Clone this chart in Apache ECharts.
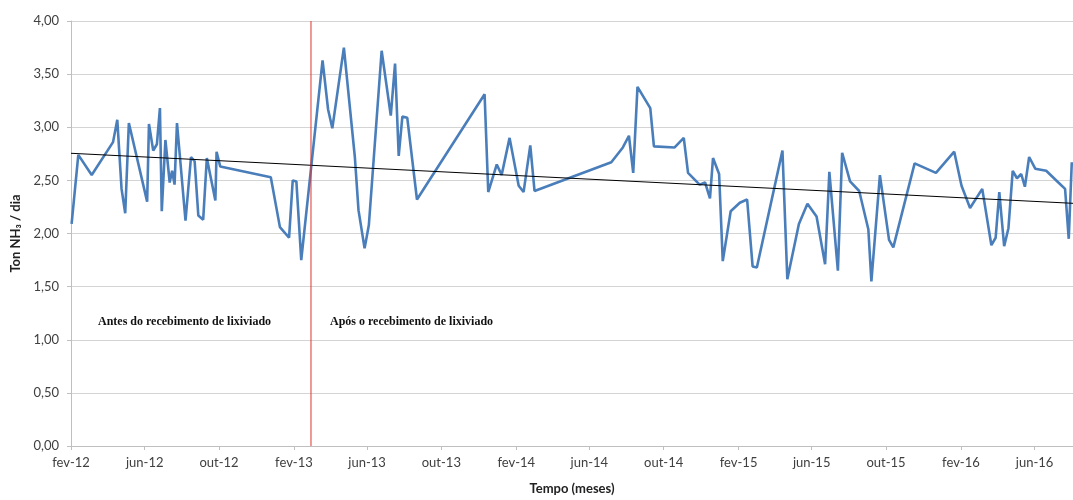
<!DOCTYPE html>
<html>
<head>
<meta charset="utf-8">
<script src="https://cdn.jsdelivr.net/npm/echarts@6/dist/echarts.min.js"></script>
<style>
html,body{margin:0;padding:0;background:#fff;}
#chart{width:1073px;height:500px;}
</style>
</head>
<body>
<div id="chart"></div>
<script>
// ---- data ----
const dates = [
 '2012-02-02','2012-02-13','2012-03-06','2012-04-10','2012-04-17','2012-04-24','2012-04-30','2012-05-06',
 '2012-06-05','2012-06-08','2012-06-15','2012-06-21','2012-06-26','2012-06-29','2012-07-05','2012-07-12',
 '2012-07-16','2012-07-20','2012-07-24','2012-08-07','2012-08-16','2012-08-22','2012-08-28','2012-09-05',
 '2012-09-11','2012-09-25','2012-09-27','2012-10-03','2012-12-25','2013-01-09','2013-01-24','2013-01-30',
 '2013-02-05','2013-02-13','2013-03-20','2013-03-29','2013-04-05','2013-04-24','2013-05-12','2013-05-18',
 '2013-05-28','2013-06-04','2013-06-25','2013-07-10','2013-07-17','2013-07-23','2013-07-29','2013-08-06',
 '2013-08-22','2013-12-11','2013-12-17','2013-12-31','2014-01-08','2014-01-21','2014-02-05','2014-02-13',
 '2014-02-24','2014-03-03','2014-07-07','2014-07-26','2014-08-05','2014-08-12','2014-08-19','2014-09-09',
 '2014-09-15','2014-10-19','2014-11-03','2014-11-10','2014-11-29','2014-12-08','2014-12-16','2014-12-21',
 '2014-12-31','2015-01-06','2015-01-19','2015-02-03','2015-02-15','2015-02-24','2015-03-03','2015-04-14',
 '2015-04-22','2015-05-11','2015-05-25','2015-06-09','2015-06-23','2015-06-30','2015-07-14','2015-07-21',
 '2015-08-03','2015-08-18','2015-09-02','2015-09-07','2015-09-21','2015-10-06','2015-10-13','2015-11-17',
 '2015-12-22','2016-01-21','2016-02-02','2016-02-16','2016-03-07','2016-03-22','2016-03-29','2016-04-04',
 '2016-04-12','2016-04-19','2016-04-26','2016-05-03','2016-05-10','2016-05-16','2016-05-23','2016-06-02',
 '2016-06-20','2016-07-10','2016-07-21','2016-07-27','2016-08-01'
];
const values = [
 2.09,2.74,2.55,2.86,3.07,2.42,2.19,3.04,
 2.30,3.03,2.78,2.84,3.18,2.21,2.88,2.48,
 2.59,2.46,3.04,2.12,2.72,2.68,2.17,2.13,
 2.71,2.31,2.77,2.63,2.53,2.06,1.96,2.50,
 2.49,1.75,3.63,3.17,2.99,3.75,2.72,2.22,
 1.86,2.08,3.72,3.11,3.60,2.73,3.10,3.09,
 2.32,3.31,2.39,2.65,2.55,2.90,2.45,2.39,
 2.83,2.40,2.67,2.81,2.92,2.57,3.38,3.18,
 2.82,2.81,2.90,2.57,2.46,2.48,2.33,2.71,
 2.56,1.74,2.21,2.29,2.32,1.69,1.68,2.78,
 1.57,2.09,2.28,2.16,1.71,2.58,1.65,2.76,
 2.49,2.40,2.04,1.55,2.55,1.94,1.87,2.66,
 2.57,2.77,2.45,2.24,2.42,1.89,1.96,2.39,
 1.88,2.05,2.59,2.52,2.56,2.44,2.72,2.61,
 2.59,2.48,2.42,1.95,2.67
];
const trendDates = ['2012-02-01','2016-08-03'];
const trendValues = [2.755, 2.284];
const eventDate = '2013-03-01';
const tickDates = ['2012-02-01','2012-06-01','2012-10-01','2013-02-01','2013-06-01','2013-10-01','2014-02-01',
                   '2014-06-01','2014-10-01','2015-02-01','2015-06-01','2015-10-01','2016-02-01','2016-06-01'];
const tickLabels = ['fev-12','jun-12','out-12','fev-13','jun-13','out-13','fev-14',
                    'jun-14','out-14','fev-15','jun-15','out-15','fev-16','jun-16'];
const xMin = '2012-02-01', xMax = '2016-08-03';
const annotations = ['Antes do recebimento de lixiviado', 'Após o recebimento de lixiviado'];

// dates -> day number (UTC based, avoids timezone effects)
function dn(s){ const p = s.split('-').map(Number); return Date.UTC(p[0], p[1]-1, p[2]) / 86400000; }
const tickDn = tickDates.map(dn);

const chart = echarts.init(document.getElementById('chart'), null, {renderer:'canvas'});
const font = 'Lato, "Liberation Sans", sans-serif';
chart.setOption({
  animation:false,
  backgroundColor:'#ffffff',
  grid:{left:71, right:0, top:21, bottom:51, containLabel:false},
  xAxis:{
    type:'value', min:dn(xMin), max:dn(xMax), scale:true,
    name:'Tempo (meses)', nameLocation:'middle', nameGap:36,
    nameTextStyle:{fontFamily:font, fontWeight:'bold', fontSize:13, color:'#222'},
    axisLine:{show:true, onZero:false, lineStyle:{color:'#bfbfbf', width:1}},
    axisTick:{show:true, length:4, lineStyle:{color:'#bfbfbf'}, customValues:tickDn},
    axisLabel:{customValues:tickDn, margin:10, fontFamily:font, fontSize:13, color:'#404040',
      showMinLabel:true, showMaxLabel:true, hideOverlap:false,
      formatter:function(v){ const i = tickDn.indexOf(v); return i>=0 ? tickLabels[i] : ''; }},
    splitLine:{show:false}
  },
  yAxis:{
    type:'value', min:0, max:4, interval:0.5,
    name:'Ton NH₃ / dia', nameLocation:'middle', nameGap:46, nameRotate:90,
    nameTextStyle:{fontFamily:font, fontWeight:'bold', fontSize:13, color:'#222'},
    axisLine:{show:true, lineStyle:{color:'#bfbfbf', width:1}},
    axisTick:{show:true, length:4, lineStyle:{color:'#bfbfbf'}},
    axisLabel:{margin:12, fontFamily:font, fontSize:13, color:'#404040',
      formatter:function(v){ return v.toFixed(2).replace('.', ','); }},
    splitLine:{show:true, lineStyle:{color:'#d4d4d4', width:1}}
  },
  series:[
    {
      type:'line', name:'NH3',
      data:dates.map(function(d,i){ return [dn(d), values[i]]; }),
      showSymbol:false, symbol:'none', smooth:false,
      lineStyle:{color:'#4a7ebb', width:2.6}, z:2
    },
    {
      type:'line', name:'Tendência',
      data:trendDates.map(function(d,i){ return [dn(d), trendValues[i]]; }),
      showSymbol:false, symbol:'none',
      lineStyle:{color:'#000000', width:1}, z:3
    },
    {
      type:'line', name:'evento',
      data:[[dn(eventDate), 0], [dn(eventDate), 4]],
      showSymbol:false, symbol:'none',
      lineStyle:{color:'#e0342c', width:1}, itemStyle:{color:'#e0342c'}, z:4
    }
  ],
  graphic:[
    {type:'text', left:98, top:316, style:{text:annotations[0], font:'bold 12px "Liberation Serif", serif', fill:'#111'}},
    {type:'text', left:330, top:316, style:{text:annotations[1], font:'bold 12px "Liberation Serif", serif', fill:'#111'}}
  ]
});
</script>
</body>
</html>
